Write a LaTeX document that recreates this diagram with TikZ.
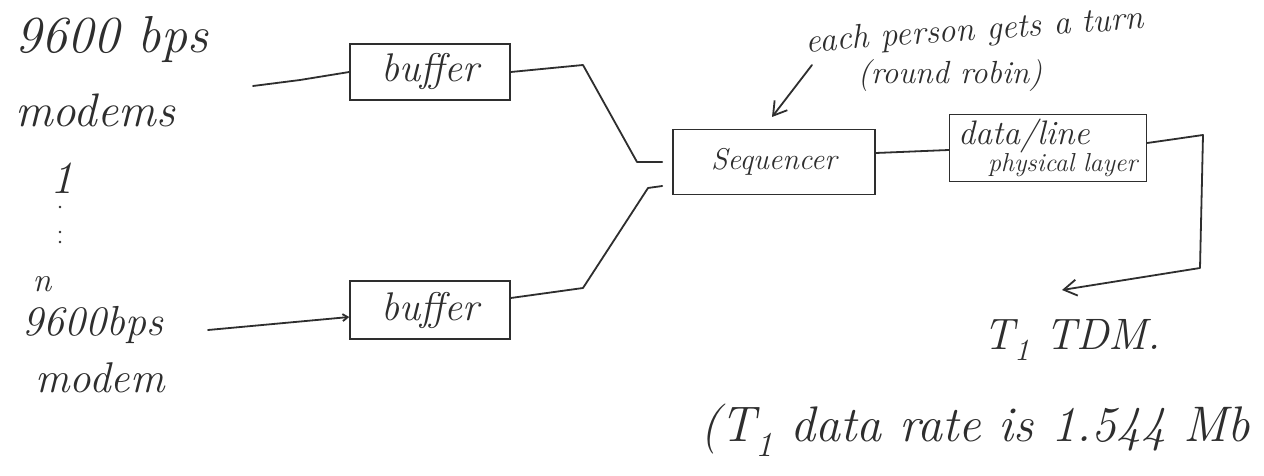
\documentclass[tikz,border=0pt]{standalone}
\usetikzlibrary{arrows.meta,calc}
\definecolor{inkc}{HTML}{2E2E2E}
\newcommand\hw[1]{\fontsize{#1}{#1}\selectfont\itshape}
\begin{document}
\begin{tikzpicture}[x=1pt,y=-1pt,
  ink/.style={draw=inkc, line width=1.8pt, line cap=round, line join=round},
  blk/.style={draw=inkc, line width=1.6pt, inner sep=0pt, text=inkc},
  hand/.style={text=inkc, inner sep=0pt},
  tip/.style={-{Straight Barb[length=13pt,width=16pt]}}
]
\useasboundingbox[fill=white] (0,0) rectangle (1264,476);

% modem labels on the left
\node[hand, font=\hw{52}] (top1) at (112,40) {9600 bps};
\node[hand, font=\hw{47}] (top2) at (95,110) {modems};
\node[hand, font=\hw{46}] (one) at (62,178) {1};
\fill[inkc] (60,207) circle (1.3pt) (60,232) circle (1.3pt) (60,242) circle (1.3pt);
\node[hand, font=\hw{34}] (nn) at (42,284) {n};
\node[hand, font=\hw{42}] (bot1) at (93,325) {9600bps};
\node[hand, font=\hw{43}] (bot2) at (100,378) {modem};

% blocks
\node[blk, minimum width=160pt, minimum height=56pt, font=\hw{40}] (buf1) at (430,72) {buffer};
\node[blk, minimum width=160pt, minimum height=58pt, font=\hw{40}] (buf2) at (430,310) {buffer};
\node[blk, minimum width=202pt, minimum height=65pt, font=\hw{30}] (seq) at (774,162) {Sequencer};
\node[blk, minimum width=197pt, minimum height=67pt, text width=180pt, align=left,
      font=\fontsize{26}{27}\selectfont\itshape] (dl) at (1048,148)
      {{\fontsize{34}{27}\selectfont data/line}\\\hspace*{30pt}physical layer};

% annotation
\node[hand, font=\hw{34}, rotate=4] (note1) at (975,32) {each person gets a turn};
\node[hand, font=\hw{32}] (note2) at (950,76) {(round robin)};
\coordinate (nt) at (812,65);
\coordinate (ntip) at (772,117);
\draw[ink, tip] (nt) -- (ntip);

% inputs
\coordinate (in1) at (253,86);
\coordinate (in2) at (208,330);
\draw[ink] (in1) -- (300,80) -- (buf1.west);
\draw[ink, -{Straight Barb[length=5pt,width=7pt]}] (in2) -- ($(buf2.west)+(0,7)$);

% buffers into the sequencer
\draw[ink] (buf1.east) -- (583,65) -- (637,162) -- ($(seq.west)+(-10,0)$);
\draw[ink] ($(buf2.east)+(0,-12)$) -- (583,288) -- (648,188) -- ($(seq.west)+(-10,24)$);

% sequencer to line, line out to T1
\draw[ink] ($(seq.east)+(0,-9)$) -- ($(dl.west)+(0,2)$);
\coordinate (ttip) at (1062,290);
\draw[ink, tip] ($(dl.east)+(0,-5)$) -- (1203,135) -- (1200,268) -- (ttip);

% notes below
\node[hand, font=\hw{44}] (tdm) at (1072,340) {T\textsubscript{1} TDM.};
\node[hand, font=\hw{50}, anchor=west] (rate) at (700,430) {(T\textsubscript{1} data rate is 1.544 Mb};
\end{tikzpicture}
\end{document}
